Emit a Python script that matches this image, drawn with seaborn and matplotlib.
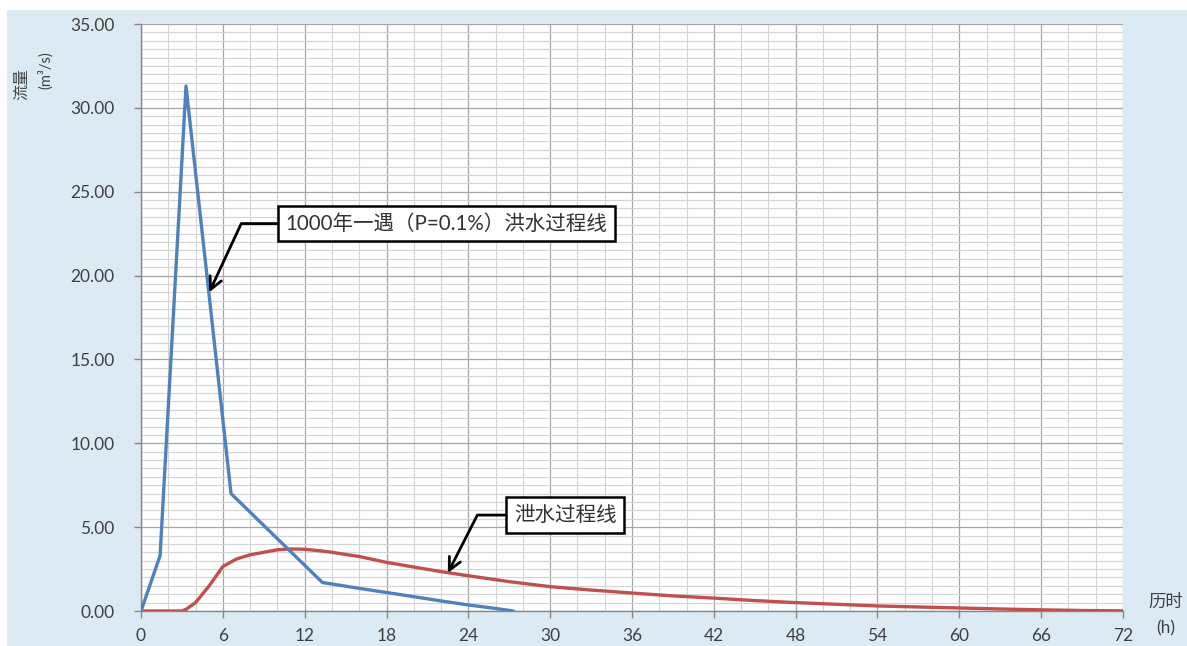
import matplotlib
matplotlib.use("Agg")
import matplotlib.pyplot as plt
from matplotlib.ticker import MultipleLocator, FormatStrFormatter
from matplotlib.patches import Rectangle
import seaborn as sns
import pandas as pd

# ---- data ----
flood_t = [0, 1.4, 3.3, 6.6, 13.3, 16, 19, 22, 24, 26, 27.3]
flood_q = [0, 3.3, 31.3, 7.0, 1.7, 1.35, 0.98, 0.6, 0.36, 0.15, 0]

release_t = [0, 3.0, 3.3, 4, 5, 6, 7, 8, 9, 10, 11, 12, 13, 14, 15, 16, 18, 20, 22, 24, 27,
             30, 33, 36, 39, 42, 45, 48, 51, 54, 57, 60, 63, 66, 69, 72]
release_q = [0, 0, 0.1, 0.5, 1.5, 2.65, 3.1, 3.35, 3.5, 3.65, 3.7, 3.68, 3.6, 3.5, 3.37, 3.25,
             2.9, 2.62, 2.35, 2.1, 1.75, 1.45, 1.25, 1.07, 0.9, 0.77, 0.62, 0.5, 0.4, 0.3,
             0.24, 0.18, 0.12, 0.07, 0.03, 0.01]

flood_label = "1000年一遇（P=0.1%）洪水过程线"
release_label = "泄水过程线"
y_label_1 = "流量"
y_label_2 = "(m³/s)"
x_label_1 = "历时"
x_label_2 = "(h)"

sns.set_theme(style="white")
plt.rcParams['font.family'] = ['Lato', 'Noto Sans CJK SC', 'DejaVu Sans']

W, H = 1187, 646
fig = plt.figure(figsize=(W / 100, H / 100), dpi=100, facecolor="white")
fig.patches.append(Rectangle((7 / W, 0), 1 - 7 / W, 1 - 10 / H, transform=fig.transFigure,
                             facecolor="#DCEBF3", edgecolor="none", zorder=-10))

ax = fig.add_axes([141 / W, 1 - 611 / H, (1123 - 141) / W, (611 - 24) / H])
ax.set_facecolor("white")

df_f = pd.DataFrame({"t": flood_t, "q": flood_q})
df_r = pd.DataFrame({"t": release_t, "q": release_q})
sns.lineplot(data=df_f, x="t", y="q", ax=ax, color="#4F81BD", lw=2.4, zorder=5)
sns.lineplot(data=df_r, x="t", y="q", ax=ax, color="#C0504D", lw=2.4, zorder=4)

ax.set_xlim(0, 72)
ax.set_ylim(0, 35)
ax.xaxis.set_major_locator(MultipleLocator(6))
ax.xaxis.set_minor_locator(MultipleLocator(2))
ax.yaxis.set_major_locator(MultipleLocator(5))
ax.yaxis.set_minor_locator(MultipleLocator(0.5))
ax.yaxis.set_major_formatter(FormatStrFormatter("%.2f"))

ax.grid(True, which="major", color="#A6A6A6", lw=0.9)
ax.grid(True, which="minor", color="#D4D4D4", lw=0.8)
ax.set_axisbelow(True)

for s in ["top", "right"]:
    ax.spines[s].set_visible(False)
for s in ["left", "bottom"]:
    ax.spines[s].set_color("#868686")
    ax.spines[s].set_linewidth(1.0)

ax.tick_params(axis="both", which="major", direction="out", length=5, width=1,
               color="#868686", labelcolor="#404040", labelsize=12.5)
ax.tick_params(axis="x", which="major", pad=7, bottom=True)
ax.tick_params(axis="y", which="major", pad=14, left=True)
ax.tick_params(which="minor", length=0)
ax.set_xlabel("")
ax.set_ylabel("")

# axis titles
fig.text(22 / W, 1 - 84 / H, y_label_1, rotation=90, ha="center", va="center",
         fontsize=11.5, color="#404040", family=['Noto Sans CJK SC'])
fig.text(45 / W, 1 - 70 / H, y_label_2, rotation=90, ha="center", va="center",
         fontsize=10.5, color="#404040")
fig.text(1166 / W, 1 - 602 / H, x_label_1, ha="center", va="center",
         fontsize=12.5, color="#404040", family=['Noto Sans CJK SC'])
fig.text(1166 / W, 1 - 628 / H, x_label_2, ha="center", va="center",
         fontsize=12.5, color="#404040")

bbox = dict(boxstyle="square,pad=0.38", fc="white", ec="black", lw=1.8)
ax.annotate(flood_label, xy=(5.0, 19.0), xytext=(22.4, 23.1), ha="center", va="center",
            fontsize=14.8, color="#333333", bbox=bbox, zorder=10,
            arrowprops=dict(arrowstyle="->,head_length=0.6,head_width=0.3", color="black", lw=2,
                            connectionstyle="angle,angleA=0,angleB=65,rad=0",
                            shrinkA=0, shrinkB=0))
ax.annotate(release_label, xy=(22.5, 2.27), xytext=(31.1, 5.72), ha="center", va="center",
            fontsize=14.8, color="#333333", bbox=bbox, zorder=10,
            arrowprops=dict(arrowstyle="->,head_length=0.6,head_width=0.3", color="black", lw=2,
                            connectionstyle="angle,angleA=0,angleB=63,rad=0",
                            shrinkA=0, shrinkB=0))

fig.savefig("out.png", dpi=100, facecolor=fig.get_facecolor())
